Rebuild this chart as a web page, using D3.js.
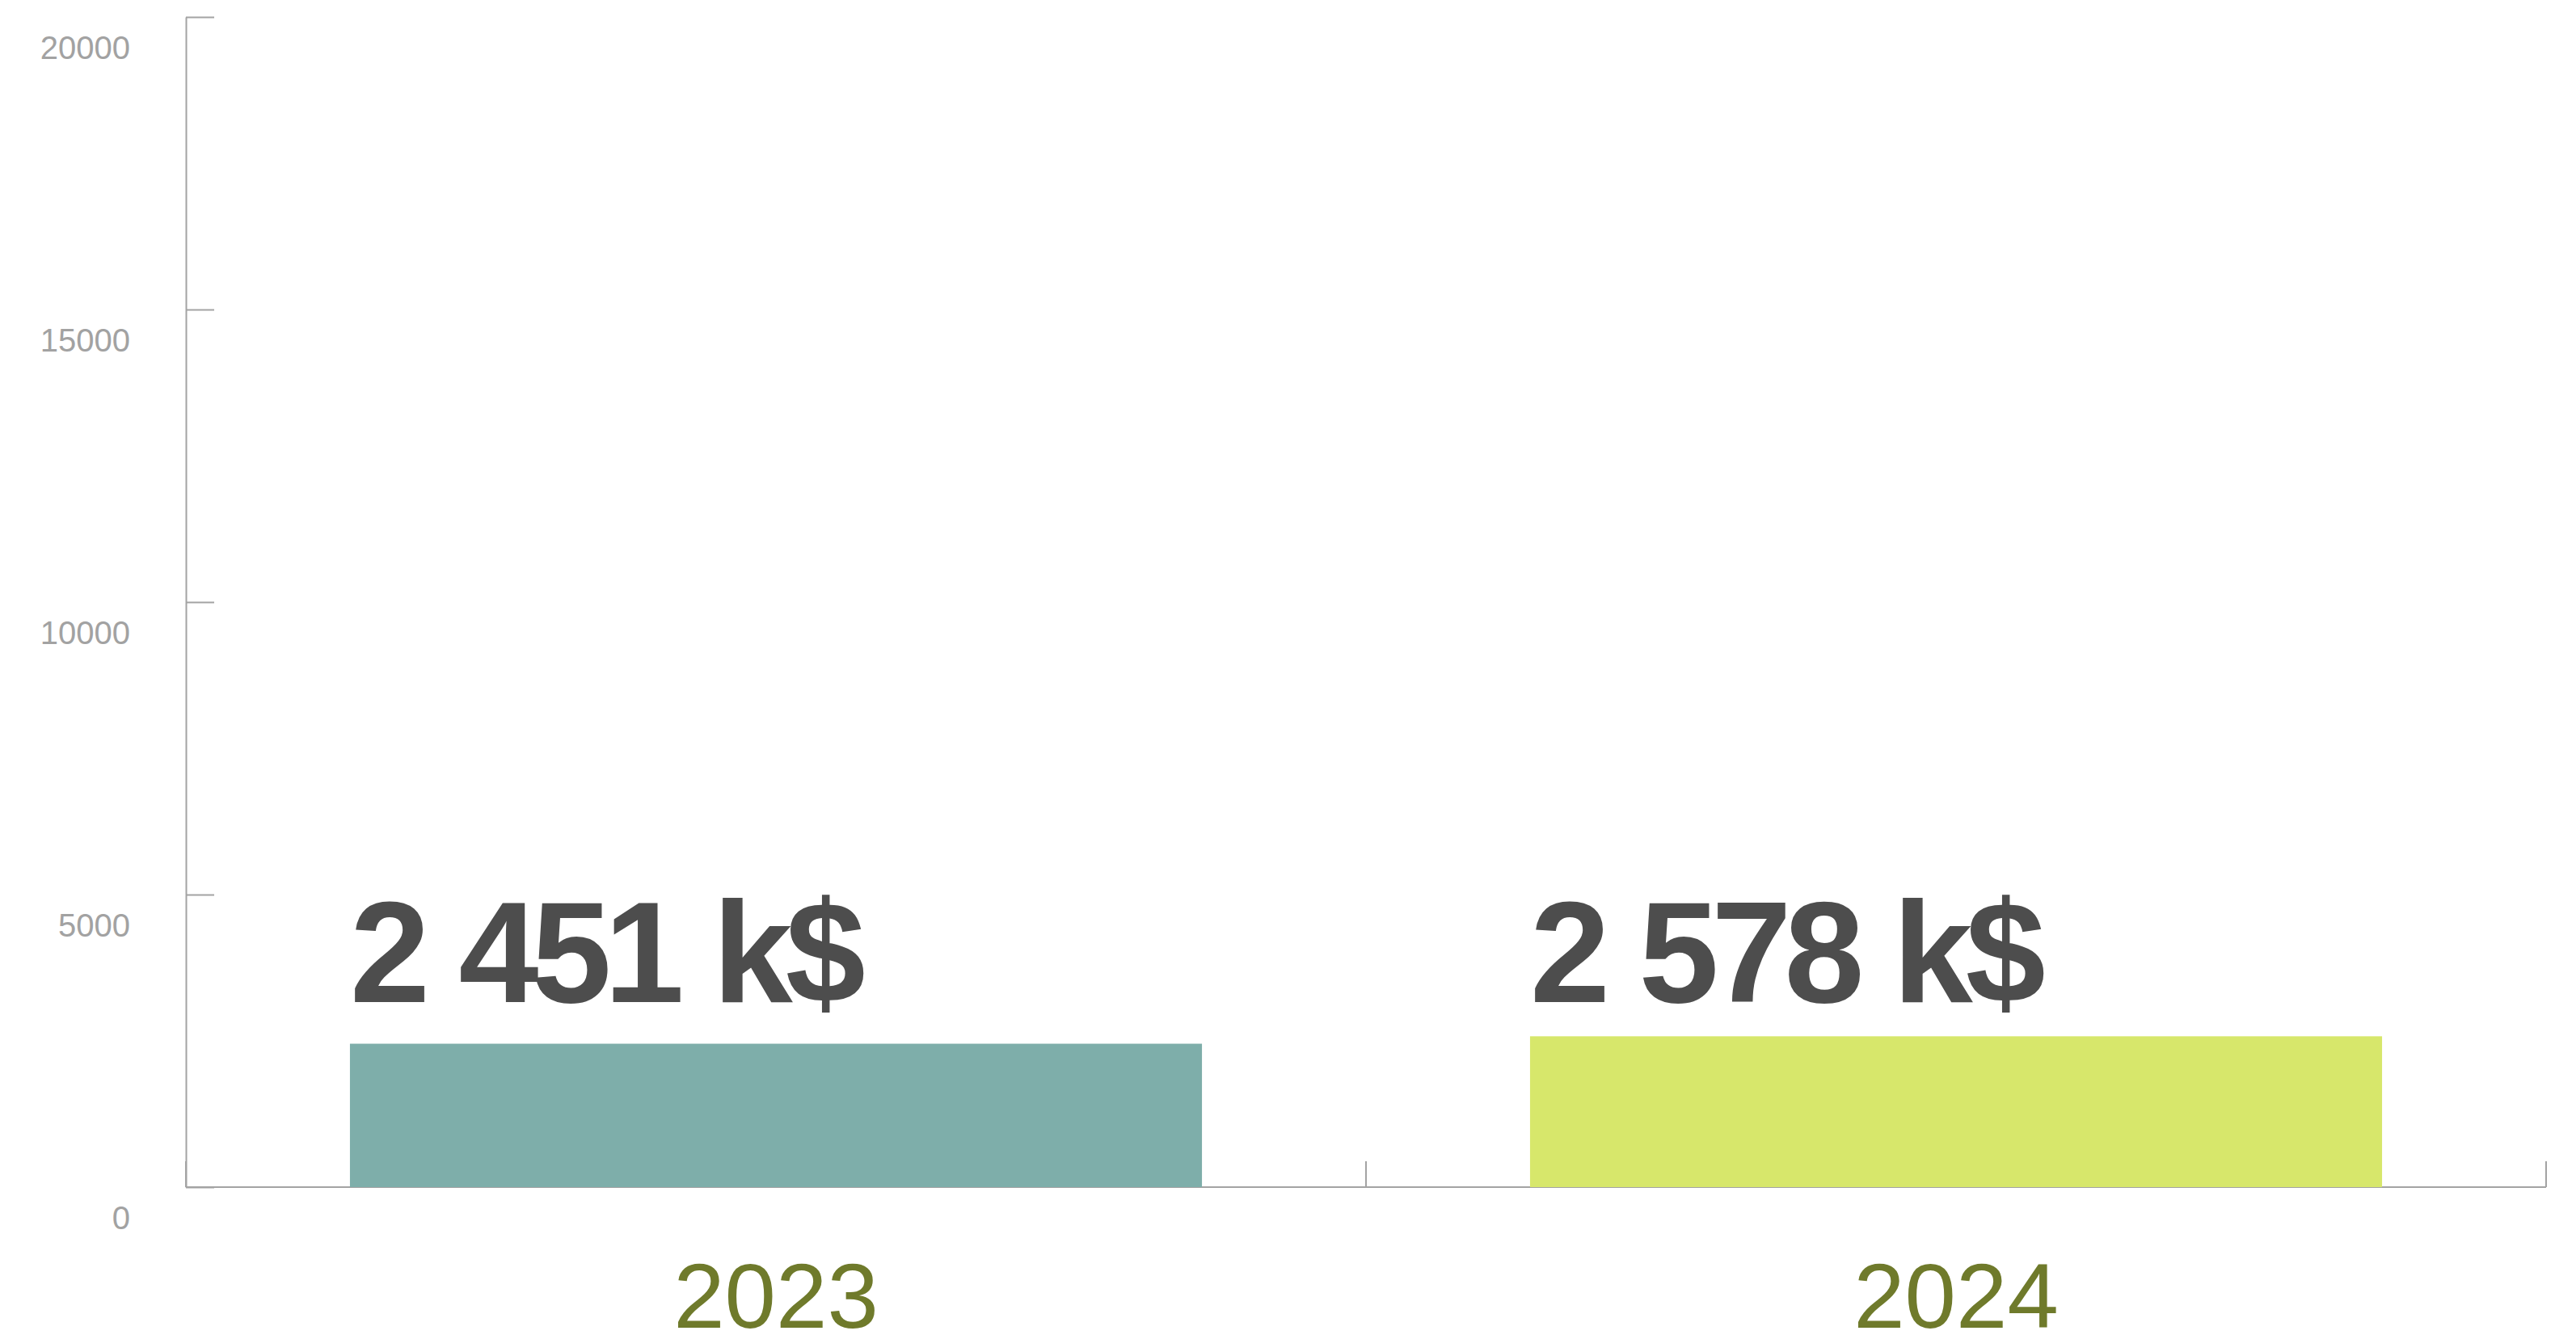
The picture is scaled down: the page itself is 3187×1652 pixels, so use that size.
<!DOCTYPE html>
<html>
<head>
<meta charset="utf-8">
<script src="https://cdn.jsdelivr.net/npm/d3@7"></script>
<style>
  html, body { margin: 0; padding: 0; background: #fff; }
  svg { display: block; }
  .axis path, .axis line { stroke: #a3a3a3; stroke-width: 2px; }
  .axis text { font-family: "Liberation Sans", Arial, sans-serif; }
</style>
</head>
<body>
<div id="chart"></div>
<script>
// values of the chart
const categories = ["2023", "2024"];
const values = [2451, 2578];
const valueLabels = ["2 451 k$", "2 578 k$"];
const barColors = ["#7eaeaa", "#d7e76b"];
const yTicks = [0, 5000, 10000, 15000, 20000];

const W = 3187, H = 1652;
const margin = {top: 21, right: 37, bottom: 183, left: 230};

const svg = d3.select("#chart").append("svg")
  .attr("width", W)
  .attr("height", H);

const y = d3.scaleLinear()
  .domain([0, 20000])
  .range([H - margin.bottom, margin.top]);

const x = d3.scaleBand()
  .domain(categories)
  .range([margin.left, W - margin.right]);

const barW = x.bandwidth() * 0.722;
const barX = (d) => x(d) + (x.bandwidth() - barW) / 2;

// y axis, ticks inside, labels under the tick
const yAxis = svg.append("g")
  .attr("class", "axis y-axis")
  .attr("transform", `translate(${margin.left},0)`)
  .call(d3.axisLeft(y).tickValues(yTicks).tickSizeInner(-35).tickSizeOuter(0).tickPadding(69).tickFormat(d3.format("d")));

yAxis.selectAll("text")
  .attr("dy", 51)
  .attr("fill", "#a2a2a2")
  .style("font-size", "40px");

// x axis: base line + ticks between categories
const xAxis = svg.append("g")
  .attr("class", "axis x-axis")
  .attr("transform", `translate(0,${y(0)})`)
  .call(d3.axisBottom(x).tickSize(0).tickPadding(0));

xAxis.select(".domain").attr("d", `M${x.range()[0]},0H${x.range()[1]}`);

const bounds = categories.map((c) => x(c)).concat([x.range()[1]]);
xAxis.selectAll("line.sep")
  .data(bounds)
  .enter()
  .append("line")
    .attr("class", "sep")
    .attr("x1", (d) => d)
    .attr("x2", (d) => d)
    .attr("y1", 0)
    .attr("y2", -32);

// category labels centred under the bars
xAxis.selectAll(".tick")
  .attr("transform", (d) => `translate(${barX(d) + barW / 2},0)`);
xAxis.selectAll(".tick text")
  .attr("y", 174)
  .attr("dy", 0)
  .attr("fill", "#6f7a2b")
  .style("font-size", "114px");

// bars
svg.append("g").selectAll("rect")
  .data(categories)
  .enter()
  .append("rect")
    .attr("x", (d) => barX(d))
    .attr("y", (d, i) => y(values[i]))
    .attr("width", barW)
    .attr("height", (d, i) => y(0) - y(values[i]))
    .attr("fill", (d, i) => barColors[i]);

// big value labels
const labelBase = y(d3.max(values)) - 42;
svg.append("g").selectAll("text")
  .data(categories)
  .enter()
  .append("text")
    .attr("x", (d) => barX(d))
    .attr("y", labelBase)
    .attr("fill", "#4d4d4d")
    .style("font-family", "'Liberation Sans', Arial, sans-serif")
    .style("font-weight", "bold")
    .style("font-size", "178px")
    .style("letter-spacing", "-9px")
    .style("word-spacing", "4px")
    .text((d, i) => valueLabels[i]);
</script>
</body>
</html>
